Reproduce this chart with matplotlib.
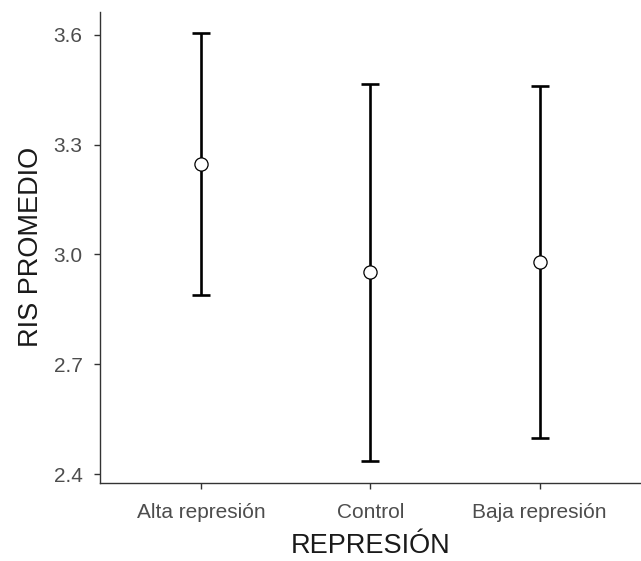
import numpy as np
import matplotlib
matplotlib.use('Agg')
import matplotlib.pyplot as plt

plt.rcParams['font.family'] = ['Liberation Sans', 'DejaVu Sans']

categories = ['Alta represión', 'Control', 'Baja represión']
means = [3.248, 2.951, 2.980]
lower = [2.890, 2.436, 2.499]
upper = [3.605, 3.466, 3.461]

x = np.arange(1, len(categories) + 1)
means = np.array(means)
yerr = [means - np.array(lower), np.array(upper) - means]

fig = plt.figure(figsize=(6.41, 5.61), dpi=100)
ax = fig.add_axes([0.156, 0.139, 0.844, 0.84])

# barras de error (IC) y medias
ax.errorbar(x, means, yerr=yerr, fmt='none', ecolor='black', elinewidth=1.9,
            capsize=6.3, capthick=1.9)
ax.plot(x, means, 'o', markersize=9.5, markerfacecolor='white',
        markeredgecolor='black', markeredgewidth=0.9)

ax.set_xlim(0.4, 3.6)
ax.set_ylim(2.3755, 3.663)
ax.set_xticks(x)
ax.set_xticklabels(categories)
ax.set_yticks([2.4, 2.7, 3.0, 3.3, 3.6])
ax.set_yticklabels(['2.4', '2.7', '3.0', '3.3', '3.6'])

for s in ['top', 'right']:
    ax.spines[s].set_visible(False)
for s in ['left', 'bottom']:
    ax.spines[s].set_color('#333333')
    ax.spines[s].set_linewidth(1.0)
ax.tick_params(colors='#333333', labelcolor='#4D4D4D', labelsize=15,
               length=4.5, width=1.0)
ax.tick_params(axis='x', pad=10)
ax.tick_params(axis='y', pad=8)

ax.set_xlabel('REPRESIÓN', fontsize=19.5, color='#1A1A1A', labelpad=8)
ax.set_ylabel('RIS PROMEDIO', fontsize=19.5, color='#1A1A1A', labelpad=7)

fig.savefig('out.png', dpi=100)
